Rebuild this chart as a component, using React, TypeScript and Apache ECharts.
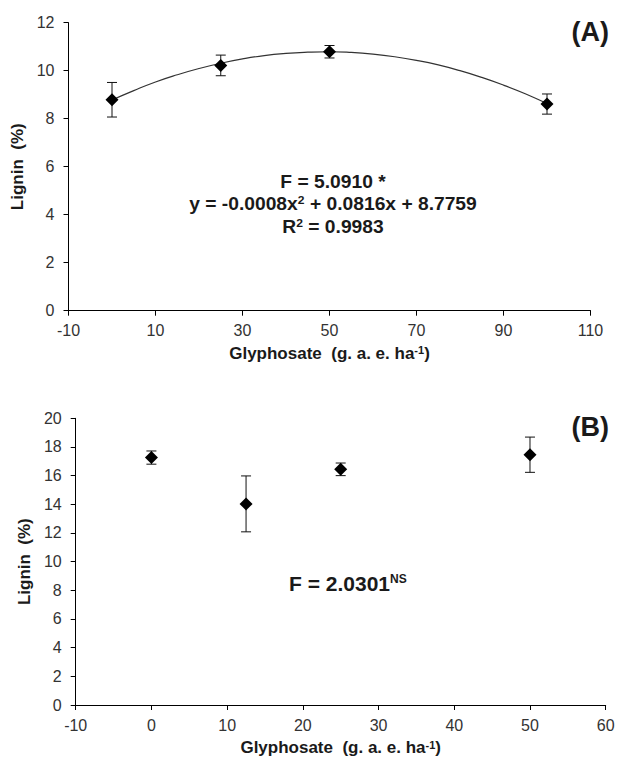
import React, { useEffect, useRef } from "react";
import * as echarts from "echarts";

// ---- Data ----
const dosesA = [0, 25, 50, 100];
const ligninA = [8.79, 10.22, 10.79, 8.61];
const errA = [0.72, 0.43, 0.26, 0.42];

const curveXA = [0, 5, 10, 15, 20, 25, 30, 35, 40, 45, 50, 55, 60, 65, 70, 75, 80, 85, 90, 95, 100];
const curveYA = [8.78, 9.17, 9.53, 9.83, 10.09, 10.31, 10.49, 10.63, 10.72, 10.77, 10.79, 10.76, 10.69, 10.58, 10.43, 10.24, 10.0, 9.72, 9.4, 9.04, 8.63];

const dosesB = [0, 12.5, 25, 50];
const ligninB = [17.26, 14.03, 16.44, 17.46];
const errB = [0.46, 1.95, 0.44, 1.23];

const xTicksA = [-10, 10, 30, 50, 70, 90, 110];
const yTicksA = [0, 2, 4, 6, 8, 10, 12];

const annotationA = ["F = 5.0910 *", "y = -0.0008x{sup|2} + 0.0816x + 8.7759", "R{sup|2} = 0.9983"];
const annotationB = "F = 2.0301{sup|NS}";

const FONT = "'Liberation Sans', Arial, Helvetica, sans-serif";
const TXT = "#1a1a1a";
const LBL = "#333333";

function errorRender(params: any, api: any) {
  const x = api.value(0);
  const lo = api.value(1);
  const hi = api.value(2);
  const pHi = api.coord([x, hi]);
  const pLo = api.coord([x, lo]);
  const cap = 5;
  const st = { stroke: "#111", lineWidth: 1 };
  return {
    type: "group",
    children: [
      { type: "line", shape: { x1: pHi[0], y1: pHi[1], x2: pLo[0], y2: pLo[1] }, style: st },
      { type: "line", shape: { x1: pHi[0] - cap, y1: pHi[1], x2: pHi[0] + cap, y2: pHi[1] }, style: st },
      { type: "line", shape: { x1: pLo[0] - cap, y1: pLo[1], x2: pLo[0] + cap, y2: pLo[1] }, style: st },
    ],
  };
}

const supRich = (size: number) => ({
  sup: { fontSize: size, fontWeight: "bold", fontFamily: FONT, color: TXT, fill: TXT, verticalAlign: "top" },
});

function axisCommon() {
  return {
    axisLine: { show: true, onZero: false, lineStyle: { color: "#000", width: 1 } },
    splitLine: { show: false },
  };
}

export default function App() {
  const ref = useRef<HTMLDivElement>(null);
  useEffect(() => {
    document.body.style.margin = "0";
    if (!ref.current) return;
    const chart = echarts.init(ref.current, undefined, { renderer: "svg" });

    const xNameStyle = {
      fontSize: 17,
      fontWeight: "bold",
      fontFamily: FONT,
      color: TXT,
      rich: supRich(11),
    };
    const yNameStyle = { fontSize: 17, fontWeight: "bold", fontFamily: FONT, color: TXT };
    const labelStyle = { fontSize: 16, fontFamily: FONT, color: LBL };
    const tick = { show: true, inside: false, length: 5, lineStyle: { color: "#000", width: 1 } };

    const option: any = {
      animation: false,
      backgroundColor: "#fff",
      grid: [
        { left: 68.5, top: 22.7, width: 522, height: 288, containLabel: false },
        { left: 75.7, top: 418.3, width: 530, height: 286.7, containLabel: false },
      ],
      xAxis: [
        {
          type: "value",
          gridIndex: 0,
          min: -10,
          max: 110,
          ...axisCommon(),
          axisTick: { ...tick, customValues: xTicksA },
          axisLabel: { ...labelStyle, margin: 12, customValues: xTicksA },
          name: "Glyphosate  (g. a. e. ha{sup|-1})",
          nameLocation: "middle",
          nameGap: 34,
          nameTextStyle: xNameStyle,
        },
        {
          type: "value",
          gridIndex: 1,
          min: -10,
          max: 60,
          interval: 10,
          ...axisCommon(),
          axisTick: tick,
          axisLabel: { ...labelStyle, margin: 12 },
          name: "Glyphosate  (g. a. e. ha{sup|-1})",
          nameLocation: "middle",
          nameGap: 34,
          nameTextStyle: xNameStyle,
        },
      ],
      yAxis: [
        {
          type: "value",
          gridIndex: 0,
          min: 0,
          max: 12,
          interval: 2,
          ...axisCommon(),
          axisTick: { ...tick, customValues: yTicksA },
          axisLabel: { ...labelStyle, margin: 14 },
          name: "Lignin  (%)",
          nameLocation: "middle",
          nameGap: 41,
          nameTextStyle: yNameStyle,
        },
        {
          type: "value",
          gridIndex: 1,
          min: 0,
          max: 20,
          interval: 2,
          ...axisCommon(),
          axisTick: tick,
          axisLabel: { ...labelStyle, margin: 14 },
          name: "Lignin  (%)",
          nameLocation: "middle",
          nameGap: 42,
          nameTextStyle: yNameStyle,
        },
      ],
      series: [
        {
          type: "line",
          xAxisIndex: 0,
          yAxisIndex: 0,
          data: curveXA.map((x, i) => [x, curveYA[i]]),
          smooth: true,
          showSymbol: false,
          symbol: "none",
          lineStyle: { color: "#333", width: 1.2 },
          z: 1,
          silent: true,
        },
        {
          type: "custom",
          xAxisIndex: 0,
          yAxisIndex: 0,
          renderItem: errorRender,
          encode: { x: 0, y: [1, 2] },
          data: dosesA.map((x, i) => [x, ligninA[i] - errA[i], ligninA[i] + errA[i]]),
          z: 2,
          silent: true,
        },
        {
          type: "scatter",
          xAxisIndex: 0,
          yAxisIndex: 0,
          symbol: "diamond",
          symbolSize: 13,
          itemStyle: { color: "#000", opacity: 1 },
          data: dosesA.map((x, i) => [x, ligninA[i]]),
          z: 3,
        },
        {
          type: "custom",
          xAxisIndex: 1,
          yAxisIndex: 1,
          renderItem: errorRender,
          encode: { x: 0, y: [1, 2] },
          data: dosesB.map((x, i) => [x, ligninB[i] - errB[i], ligninB[i] + errB[i]]),
          z: 2,
          silent: true,
        },
        {
          type: "scatter",
          xAxisIndex: 1,
          yAxisIndex: 1,
          symbol: "diamond",
          symbolSize: 13,
          itemStyle: { color: "#000", opacity: 1 },
          data: dosesB.map((x, i) => [x, ligninB[i]]),
          z: 3,
        },
      ],
      graphic: [
        {
          type: "text",
          x: 609,
          y: 32,
          style: { text: "(A)", font: `bold 27px ${FONT}`, fill: TXT, align: "right", verticalAlign: "middle" },
        },
        {
          type: "text",
          x: 609,
          y: 427,
          style: { text: "(B)", font: `bold 27px ${FONT}`, fill: TXT, align: "right", verticalAlign: "middle" },
        },
        ...annotationA.map((t, i) => ({
          type: "text",
          x: 333,
          y: [182, 204, 227][i],
          scaleX: 1.1,
          style: {
            text: t,
            fontSize: 17.5,
            fontWeight: "bold",
            fontFamily: FONT,
            fill: TXT,
            align: "center",
            verticalAlign: "middle",
            rich: supRich(11),
          },
        })),
        {
          type: "text",
          x: 289,
          y: 583,
          style: {
            text: annotationB,
            fontSize: 21,
            fontWeight: "bold",
            fontFamily: FONT,
            fill: TXT,
            align: "left",
            verticalAlign: "middle",
            rich: supRich(12),
          },
        },
      ],
    };
    chart.setOption(option);
    return () => chart.dispose();
  }, []);
  return <div ref={ref} style={{ width: 618, height: 761 }} />;
}
